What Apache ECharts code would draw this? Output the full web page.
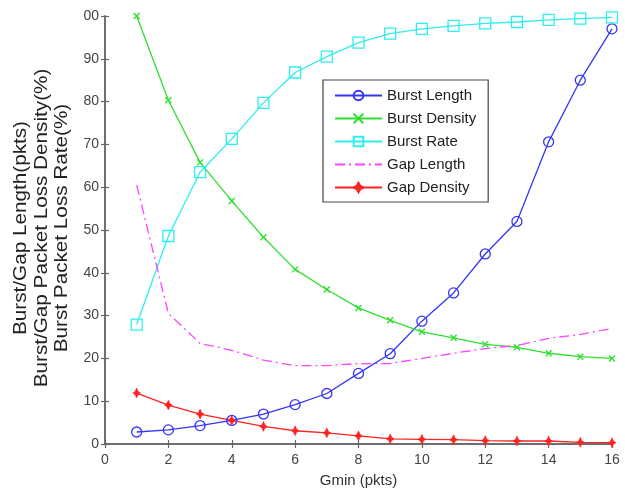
<!DOCTYPE html>
<html>
<head>
<meta charset="utf-8">
<script src="https://cdn.jsdelivr.net/npm/echarts@6/dist/echarts.min.js"></script>
<style>
  html, body { margin: 0; padding: 0; background: #fff; }
  #chart { width: 625px; height: 493px; }
</style>
</head>
<body>
<div id="chart"></div>
<script>
// ---- data ----
const gmin = [1, 2, 3, 4, 5, 6, 7, 8, 9, 10, 11, 12, 13, 14, 15, 16];
const burstLength  = [2.8, 3.3, 4.3, 5.5, 7.0, 9.2, 11.8, 16.5, 21.1, 28.7, 35.3, 44.4, 52.0, 70.6, 85.0, 97.0];
const burstDensity = [100, 80.3, 65.8, 56.8, 48.3, 40.8, 36.1, 31.8, 28.9, 26.2, 24.8, 23.3, 22.6, 21.2, 20.4, 20.0];
const burstRate    = [27.9, 48.6, 63.5, 71.3, 79.7, 86.8, 90.5, 93.8, 95.9, 97.0, 97.7, 98.3, 98.6, 99.1, 99.4, 99.7];
const gapLength    = [60.5, 30.5, 23.5, 21.9, 19.6, 18.3, 18.3, 18.8, 18.8, 20.0, 21.2, 22.3, 23.0, 24.7, 25.6, 27.0];
const gapDensity   = [11.9, 9.1, 7.0, 5.5, 4.1, 3.1, 2.6, 1.9, 1.2, 1.1, 1.0, 0.8, 0.7, 0.7, 0.4, 0.3];
const seriesNames  = ['Burst Length', 'Burst Density', 'Burst Rate', 'Gap Length', 'Gap Density'];
const xTitle = 'Gmin (pkts)';
const yTitleLines = ['Burst/Gap Length(pkts)', 'Burst/Gap Packet Loss Density(%)', 'Burst Packet Loss Rate(%)'];

const pairs = arr => gmin.map((g, i) => [g, arr[i]]);
const FONT = '"Liberation Sans", Arial, sans-serif';
const axisColor = '#666';

const chart = echarts.init(document.getElementById('chart'), null, { renderer: 'canvas' });

const baseSeries = (name, data, color, extra) => Object.assign({
  name, type: 'line', data: pairs(data), xAxisIndex: 0, yAxisIndex: 0,
  clip: false, smooth: false, animation: false,
  lineStyle: { color, width: 1.3 },
  emphasis: { disabled: true }
}, extra);

const legendData = seriesNames.map(n => (n === 'Gap Length'
  ? { name: n, itemStyle: { color: 'rgba(0,0,0,0)', borderColor: 'rgba(0,0,0,0)', borderWidth: 0 } }
  : { name: n }));

const option = {
  animation: false,
  backgroundColor: '#fff',
  grid: { left: 105, right: 13, top: 16, bottom: 47, containLabel: false },
  xAxis: [{
    type: 'value', min: 0, max: 16, interval: 2, position: 'bottom',
    name: xTitle, nameLocation: 'middle', nameGap: 29,
    nameTextStyle: { fontFamily: FONT, fontSize: 15, color: '#333' },
    axisLine: { show: true, lineStyle: { color: axisColor, width: 1.5 } },
    axisTick: { show: true, inside: true, length: 4, lineStyle: { color: axisColor, width: 1.2 } },
    axisLabel: { fontFamily: FONT, fontSize: 14, color: '#444', margin: 9 },
    splitLine: { show: false }
  }, {
    type: 'value', min: 0, max: 16, interval: 2, position: 'top',
    axisLine: { show: true, lineStyle: { color: axisColor, width: 1.5 } },
    axisTick: { show: true, inside: true, length: 4, lineStyle: { color: axisColor, width: 1.2 } },
    axisLabel: { show: false }, splitLine: { show: false }
  }],
  yAxis: [{
    type: 'value', min: 0, max: 100, interval: 10, position: 'left',
    axisLine: { show: true, lineStyle: { color: axisColor, width: 1.5 } },
    axisTick: { show: true, inside: true, length: 4, lineStyle: { color: axisColor, width: 1.2 } },
    axisLabel: {
      fontFamily: FONT, fontSize: 14, color: '#444', margin: 6,
      formatter: v => (v === 100 ? '00' : String(v))
    },
    splitLine: { show: false }
  }, {
    type: 'value', min: 0, max: 100, interval: 10, position: 'right',
    axisLine: { show: true, lineStyle: { color: axisColor, width: 1.5 } },
    axisTick: { show: true, inside: true, length: 4, lineStyle: { color: axisColor, width: 1.2 } },
    axisLabel: { show: false }, splitLine: { show: false }
  }],
  legend: {
    orient: 'vertical', left: 323, top: 80,
    data: legendData,
    itemWidth: 47, itemHeight: 12, itemGap: 8,
    padding: [8, 12, 7, 11],
    backgroundColor: '#fff', borderColor: '#444', borderWidth: 1.2,
    textStyle: { fontFamily: FONT, fontSize: 15, color: '#222' },
    selectedMode: false
  },
  graphic: [{
    type: 'text', x: 42, y: 228, rotation: Math.PI / 2, scaleX: 1.15,
    style: {
      text: yTitleLines.join('\n'),
      font: '18px ' + FONT,
      fill: '#222', textAlign: 'center', textVerticalAlign: 'middle',
      lineHeight: 20.5
    }
  }],
  series: [
    baseSeries(seriesNames[0], burstLength, '#3535f5', {
      symbol: 'circle', symbolSize: 10,
      itemStyle: { color: 'rgba(0,0,0,0)', borderColor: '#3535f5', borderWidth: 1.3 }
    }),
    baseSeries(seriesNames[1], burstDensity, '#2ee02e', {
      symbol: 'path://M0,0L10,10M10,0L0,10', symbolSize: 6,
      itemStyle: { color: 'rgba(0,0,0,0)', borderColor: '#2ee02e', borderWidth: 1.4 }
    }),
    baseSeries(seriesNames[2], burstRate, '#2eeeee', {
      symbol: 'rect', symbolSize: 11,
      itemStyle: { color: 'rgba(0,0,0,0)', borderColor: '#2eeeee', borderWidth: 1.3 }
    }),
    baseSeries(seriesNames[3], gapLength, '#ff44ff', {
      symbol: 'none', showSymbol: false,
      lineStyle: { color: '#ff44ff', width: 1.3, type: [10, 4, 2, 4] },
      itemStyle: { color: '#ff44ff' }
    }),
    baseSeries(seriesNames[4], gapDensity, '#ff2222', {
      symbol: 'path://M0,-5L1.6,-1.6L4,0L1.6,1.6L0,5L-1.6,1.6L-4,0L-1.6,-1.6Z', symbolSize: [8, 10],
      itemStyle: { color: '#ff2222', borderColor: '#ff2222', borderWidth: 0.5 }
    })
  ]
};
chart.setOption(option);
</script>
</body>
</html>
